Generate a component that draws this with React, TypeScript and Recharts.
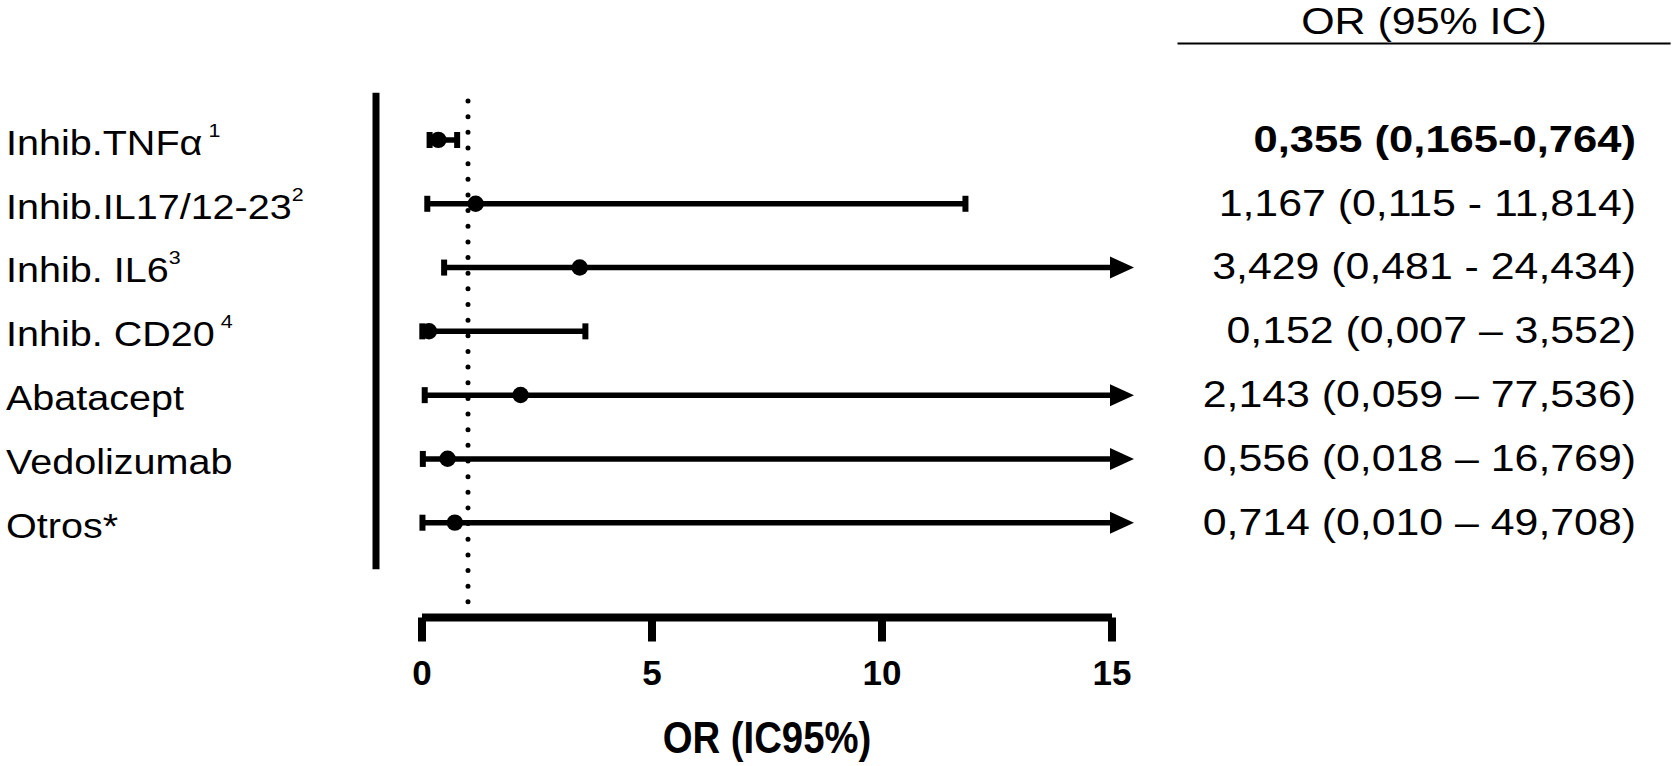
import React from 'react';
import { ComposedChart, Bar, Scatter, XAxis, YAxis, ReferenceLine, Label } from 'recharts';

// ---- data ----
const categories = ['Inhib.TNFα', 'Inhib.IL17/12-23', 'Inhib. IL6', 'Inhib. CD20', 'Abatacept', 'Vedolizumab', 'Otros*'];
const superscripts = [' 1', '2', '3', ' 4', '', '', ''];
const orValues = [0.355, 1.167, 3.429, 0.152, 2.143, 0.556, 0.714];
const ciLower = [0.165, 0.115, 0.481, 0.007, 0.059, 0.018, 0.010];
const ciUpper = [0.764, 11.814, 24.434, 3.552, 77.536, 16.769, 49.708];
const ciLabels = [
  '0,355 (0,165-0,764)',
  '1,167 (0,115 - 11,814)',
  '3,429 (0,481 - 24,434)',
  '0,152 (0,007 – 3,552)',
  '2,143 (0,059 – 77,536)',
  '0,556 (0,018 – 16,769)',
  '0,714 (0,010 – 49,708)',
];
const significant = [true, false, false, false, false, false, false];
const xTicks = [0, 5, 10, 15];
const xDomainMax = 15;
const referenceOR = 1;
const xAxisTitle = 'OR (IC95%)';
const tableHeader = 'OR (95% IC)';

const FONT = '"Liberation Sans", Arial, Helvetica, sans-serif';

const data = categories.map((name, i) => ({
  name,
  or: orValues[i],
  ci: [ciLower[i], Math.min(ciUpper[i], xDomainMax)],
  clipped: ciUpper[i] > xDomainMax,
}));

const rowIndex = (props: any): number => {
  const p = props.payload;
  const name = p && p.name;
  const byName = categories.indexOf(name);
  if (byName >= 0) return byName;
  if (typeof props.originalDataIndex === 'number') return props.originalDataIndex;
  return typeof props.index === 'number' ? props.index : -1;
};

const CIShape = (props: any) => {
  const { x, y, width, height } = props;
  const i = rowIndex(props);
  const cy = y + height / 2;
  const x1 = x;
  const x2 = x + width;
  const clipped = i >= 0 ? ciUpper[i] > xDomainMax : false;
  const lineEnd = clipped ? x2 - 2 : x2;
  return (
    <g>
      <line x1={x1} x2={lineEnd} y1={cy} y2={cy} stroke="#000" strokeWidth={5.5} />
      <rect x={x1 - 3} y={cy - 8} width={6} height={16} fill="#000" />
      {clipped ? (
        <polygon points={`${x2 - 2},${cy - 11} ${x2 + 22},${cy} ${x2 - 2},${cy + 11}`} fill="#000" />
      ) : (
        <rect x={x2 - 3} y={cy - 8} width={6} height={16} fill="#000" />
      )}
    </g>
  );
};

const PointShape = (props: any) => <circle cx={props.cx} cy={props.cy} r={8.2} fill="#000" />;

const CategoryTick = (props: any) => {
  const { y, payload } = props;
  const i = categories.indexOf(payload.value);
  if (i < 0) return null;
  const bold = significant[i];
  return (
    <g>
      <g transform={`translate(6, ${y + 15}) scale(1.13, 1)`}>
        <text x={0} y={0} fontFamily={FONT} fontSize={35} fill="#000">
          {categories[i]}
          {superscripts[i] ? (
            <tspan dy={-18} fontSize={19}>
              {superscripts[i]}
            </tspan>
          ) : null}
        </text>
      </g>
      <g transform={`translate(1636, ${y + 12}) scale(${bold ? 1.21 : 1.19}, 1)`}>
        <text x={0} y={0} textAnchor="end" fontFamily={FONT} fontSize={36} fontWeight={bold ? 'bold' : 'normal'} fill="#000">
          {ciLabels[i]}
        </text>
      </g>
    </g>
  );
};

const XTick = (props: any) => {
  const { x, y, payload } = props;
  return (
    <text x={x} y={y + 43.5} textAnchor="middle" fontFamily={FONT} fontSize={35} fontWeight="bold" fill="#000">
      {payload.value}
    </text>
  );
};

const TitleLabel = (props: any) => {
  const vb = props.viewBox || { x: 422, y: 617.5, width: 690 };
  const cx = vb.x + vb.width / 2;
  return (
    <g transform={`translate(${cx}, ${vb.y + 135.5}) scale(0.87, 1)`}>
      <text x={0} y={0} textAnchor="middle" fontFamily={FONT} fontSize={44} fontWeight="bold" fill="#000">
        {xAxisTitle}
      </text>
    </g>
  );
};

export default function App() {
  return (
    <div style={{ position: 'absolute', left: 0, top: 0, width: 1675, height: 766, background: '#fff' }}>
      <ComposedChart
        width={1675}
        height={766}
        data={data}
        layout="vertical"
        margin={{ top: 94, right: 563, bottom: 0, left: 0 }}
      >
        <XAxis
          type="number"
          domain={[0, xDomainMax]}
          ticks={xTicks}
          height={148.5}
          axisLine={{ stroke: '#000', strokeWidth: 8 }}
          tickLine={{ stroke: '#000', strokeWidth: 8 }}
          tickSize={24}
          tickMargin={0}
          tick={<XTick />}
        >
          <Label content={<TitleLabel />} />
        </XAxis>
        <YAxis
          type="category"
          dataKey="name"
          width={422}
          axisLine={false}
          tickLine={false}
          padding={{ top: 14, bottom: 63 }}
          tick={<CategoryTick />}
          interval={0}
        />
        <ReferenceLine
          x={referenceOR}
          stroke="#000"
          strokeWidth={5}
          strokeDasharray="0 15.65"
          strokeLinecap="round"
        />
        <Bar dataKey="ci" barSize={16} shape={<CIShape />} isAnimationActive={false} />
        <Scatter dataKey="or" shape={<PointShape />} isAnimationActive={false} />
        <line x1={376} x2={376} y1={92.7} y2={569.3} stroke="#000" strokeWidth={7} />
        <g transform="translate(1424, 33.5) scale(1.16, 1)">
          <text x={0} y={0} textAnchor="middle" fontFamily={FONT} fontSize={37} fill="#000">
            {tableHeader}
          </text>
        </g>
        <line x1={1177.5} x2={1670.6} y1={43.5} y2={43.5} stroke="#000" strokeWidth={2} />
      </ComposedChart>
    </div>
  );
}
